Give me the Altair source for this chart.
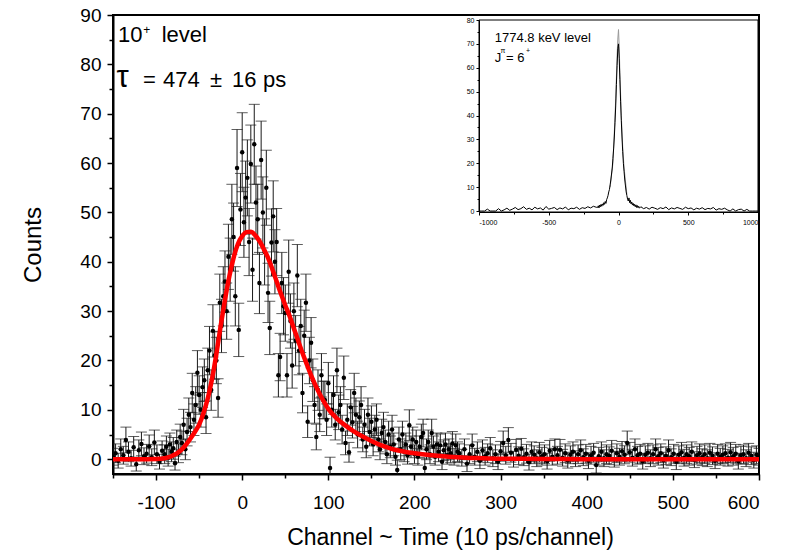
import altair as alt
import pandas as pd

FONT = "Liberation Sans"

# ---------------- main spectrum: 10+ level ----------------
# channels (regular bins) and counts / errors
ch_a = list(range(-150, -92, 3))
cnt_a = [0.5, 1.2, -0.3, 2.0, 0.8, 3.9, 1.5, 0.2, 2.4, -1.0,
         1.8, 3.1, 0.6, 1.1, 2.6, 0.4, 3.4, 1.0, -0.5, 1.7]
err_a = [1.7, 1.9, 1.5, 2.1, 1.8, 2.6, 2.0, 1.6, 2.2, 1.4,
         2.1, 2.4, 1.7, 1.9, 2.3, 1.7, 2.5, 1.9, 1.5, 2.0]

ch_b = list(range(-90, 251, 2))
cnt_b = [1.0, 2.5, 0.3, 3.0, 1.5,
         2.2, -0.8, 3.5, 1.2, 4.5,
         3.3, 7.0, 2.0, 5.5, 9.0,
         6.5, 13.4, 8.0, 11.0, 17.5,
         13.0, 10.0, 14.6, 16.0, 8.5,
         18.0, 22.0, 14.0, 26.0, 21.0,
         20.0, 12.4, 31.7, 27.0, 33.0,
         36.0, 30.0, 41.0, 38.4, 48.6,
         45.0, 33.0, 59.0, 26.2, 50.6,
         62.2, 48.0, 53.0, 57.0, 44.0,
         59.8, 38.4, 63.8, 52.0, 48.6,
         35.7, 60.6, 50.0, 42.0, 55.0,
         33.7, 26.6, 43.9, 49.2, 40.0,
         44.0, 17.0, 20.7, 35.7, 31.0,
         29.6, 17.0, 38.0, 28.0, 19.0,
         30.0, 24.0, 37.2, 22.0, 27.0,
         13.4, 25.0, 31.7, 7.6, 20.0,
         23.6, 16.0, 11.0, 4.5, 14.0,
         9.0, 17.0, 12.0, 12.0, 8.0,
         15.4, -1.8, 10.0, 13.0, 7.0,
         18.0, 9.5, 11.0, 6.0, 16.5,
         3.3, 8.0, 1.4, 10.5, 7.5,
         13.4, 9.0, 5.0, 8.5, 11.0,
         4.0, 7.0, 2.5, 9.0, 5.5,
         7.6, 3.0, 6.0, 8.0, 4.0,
         2.0, 5.3, 6.5, 3.5, 1.0,
         5.0, 2.5, 6.0, 3.0, 0.5,
         -2.2, 4.0, 2.0, 5.0, 1.5,
         3.0, 0.8, 6.9, 2.5, 4.0,
         1.0, 3.5, 0.5, 2.5, 4.5,
         5.3, -1.8, 2.0, 3.5, 1.0,
         5.3, 2.5, 0.5, 3.0, 1.5,
         2.8, -0.5, 1.8, 3.0, 0.8,
         2.0, 1.2, 3.2, 0.5, 2.8,
         1.5]
err_b = [1.9, 2.2, 1.7, 2.3, 2.0,
         2.2, 1.4, 2.4, 1.9, 2.6,
         2.4, 3.1, 2.1, 2.8, 3.4,
         3.0, 4.0, 3.2, 3.7, 4.5,
         3.9, 3.5, 4.1, 4.3, 3.3,
         4.5, 4.9, 4.1, 5.3, 4.8,
         4.7, 3.9, 5.8, 5.4, 6.0,
         6.2, 5.7, 6.6, 6.4, 7.1,
         6.9, 6.0, 7.8, 5.4, 7.3,
         8.0, 7.1, 7.4, 7.7, 6.8,
         7.9, 6.4, 8.1, 7.4, 7.1,
         6.2, 7.9, 7.2, 6.7, 7.6,
         6.0, 5.4, 6.8, 7.2, 6.5,
         6.8, 4.4, 4.8, 6.2, 5.8,
         5.7, 4.4, 6.4, 5.5, 4.6,
         5.7, 5.1, 6.3, 4.9, 5.4,
         4.0, 5.2, 5.8, 3.2, 4.7,
         5.1, 4.3, 3.7, 2.6, 4.1,
         3.4, 4.4, 3.8, 3.8, 3.2,
         4.2, 2.2, 3.5, 3.9, 3.1,
         4.5, 3.5, 3.7, 2.9, 4.4,
         2.4, 3.2, 2.0, 3.6, 3.2,
         4.0, 3.4, 2.7, 3.3, 3.7,
         2.5, 3.1, 2.2, 3.4, 2.8,
         3.2, 2.3, 2.9, 3.2, 2.5,
         2.1, 2.8, 3.0, 2.4, 1.9,
         2.7, 2.2, 2.9, 2.3, 1.7,
         2.0, 2.5, 2.1, 2.7, 2.0,
         2.3, 1.8, 3.1, 2.2, 2.5,
         1.9, 2.4, 1.7, 2.2, 2.6,
         2.8, 2.0, 2.1, 2.4, 1.9,
         2.8, 2.2, 1.7, 2.3, 2.0,
         2.3, 1.6, 2.1, 2.3, 1.8,
         2.1, 1.9, 2.4, 1.7, 2.3,
         2.0]

ch_c = list(range(252, 601, 3))
cnt_c = [1.2, 0.3, 2.0, -0.9, 1.0, 2.8, 0.5, 1.5, -0.3, 1.8,
         0.6, 1.2, 2.2, 0.2, 1.0, -0.5, 1.6, 3.3, 0.8, 3.9,
         1.3, 0.0, 1.9, 0.7, 2.1, 0.4, 1.1, -0.6, 1.5, 0.9,
         0.2, 1.4, 0.6, 1.0, -0.4, 1.7, 0.5, 2.0, 0.8, 1.9,
         0.3, 1.2, -0.2, 0.9, 1.5, 0.1, 1.0, 1.8, 0.4, 1.1,
         -0.3, 0.8, 1.3, -1.2, 0.6, 1.5, 0.2, 1.0, 0.7, 1.7,
         0.0, 1.2, 0.5, 1.6, 0.9, 3.3, 1.4, 0.3, 2.0, 0.8,
         1.1, -0.4, 0.9, 1.3, 0.2, 1.0, 2.0, 0.6, 1.2, -0.2,
         0.7, 1.8, 0.4, 1.1, -0.5, 0.9, 1.4, 0.3, 1.0, 0.6,
         1.5, -0.1, 0.8, 1.2, 0.4, 1.0, 0.2, 1.3, 0.7, -0.3,
         1.1, 0.5, 0.9, 1.2, 0.3, 1.4, 0.6, 1.1, -0.4, 0.8,
         1.0, 0.2, 1.3, 0.7, -0.2, 0.9, 0.5]
err_c = [1.9, 1.7, 2.1, 1.6, 1.9, 2.3, 1.7, 2.0, 1.6, 2.1,
         1.8, 1.9, 2.2, 1.7, 1.9, 1.6, 2.0, 2.4, 1.8, 2.5,
         1.9, 1.6, 2.1, 1.8, 2.1, 1.7, 1.9, 1.6, 2.0, 1.8,
         1.7, 2.0, 1.8, 1.9, 1.6, 2.1, 1.7, 2.1, 1.8, 2.1,
         1.7, 1.9, 1.6, 1.8, 2.0, 1.6, 1.9, 2.1, 1.7, 1.9,
         1.6, 1.8, 1.9, 1.6, 1.8, 2.0, 1.7, 1.9, 1.8, 2.1,
         1.6, 1.9, 1.7, 2.0, 1.8, 2.4, 2.0, 1.7, 2.1, 1.8,
         1.9, 1.6, 1.8, 1.9, 1.7, 1.9, 2.1, 1.8, 1.9, 1.6,
         1.8, 2.1, 1.7, 1.9, 1.6, 1.8, 2.0, 1.7, 1.9, 1.8,
         2.0, 1.6, 1.8, 1.9, 1.7, 1.9, 1.7, 1.9, 1.8, 1.6,
         1.9, 1.7, 1.8, 1.9, 1.7, 2.0, 1.8, 1.9, 1.6, 1.8,
         1.9, 1.7, 1.9, 1.8, 1.6, 1.8, 1.7]

# fitted curve (red)
fit_x = [-150, -120, -100, -90, -85, -80, -75, -70, -65, -60, -55, -50, -45, -40,
         -35, -30, -25, -20, -15, -10, -5, 0, 5, 10, 15, 20, 25, 30, 35, 40, 45,
         50, 55, 60, 65, 70, 75, 80, 85, 90, 95, 100, 110, 120, 130, 140, 150,
         160, 170, 180, 190, 200, 220, 240, 260, 280, 300, 350, 400, 500, 600]
fit_y = [0.0, 0.0, 0.05, 0.2, 0.4, 0.8, 1.3, 2.0, 3.0, 4.2, 5.5, 7.0, 9.3, 12.3,
         16.3, 21.3, 27.0, 32.3, 37.0, 40.8, 43.6, 45.2, 46.0, 46.1, 45.4, 44.2,
         42.6, 40.8, 38.5, 36.0, 33.5, 31.2, 29.0, 26.5, 24.0, 21.5, 19.2, 17.0,
         15.0, 13.2, 11.6, 10.2, 8.2, 6.8, 5.6, 4.6, 3.7, 2.9, 2.3, 1.8, 1.45,
         1.2, 0.8, 0.5, 0.3, 0.2, 0.1, 0.05, 0.0, 0.0, 0.0]

x_ticks = [-100, 0, 100, 200, 300, 400, 500, 600]
x_minor = [-150, -50, 50, 150, 250, 350, 450, 550]
y_ticks = [0, 10, 20, 30, 40, 50, 60, 70, 80, 90]
y_minor = [5, 15, 25, 35, 45, 55, 65, 75, 85]

# ---------------- inset: 1774.8 keV level ----------------
ins_x_left = list(range(-1000, -159, 20))
ins_y_left = [0, 0, 0, 0.8, 0, 0, 0, 1.0, 0, 0.5,
              1.2, 0.3, 0.8, 1.5, 0.6, 1.0, 1.8, 0.7, 1.2, 0.5,
              1.6, 0.9, 1.3, 0.4, 1.9, 0.8, 1.1, 1.5, 0.6, 1.3,
              0.9, 1.7, 0.5, 1.2, 1.0, 1.6, 0.7, 1.4, 1.1, 1.8,
              1.3, 2.0, 1.6]
ins_x_peak = list(range(-150, 151, 5))
ins_y_peak = [1.5, 2.2, 1.3, 2.5, 1.8, 2.8, 2.0, 3.0, 2.4, 3.5, 2.8,
              4.0, 3.2, 4.8, 5.5, 6.5, 8.0, 9.0, 11.0, 13.0, 15.5,
              18.0, 22.0, 26.0, 31.0, 37.0, 44.0, 53.0, 61.0, 68.0, 70.0,
              64.0, 55.0, 46.0, 38.0, 31.0, 25.0, 20.0, 16.5, 13.0, 10.5,
              8.0, 6.5, 5.0, 4.2, 5.5, 3.5, 4.5, 3.0, 3.8, 2.5,
              3.2, 2.2, 2.8, 1.8, 2.6, 1.5, 2.3, 1.4, 2.0, 1.2]
ins_x_right = list(range(160, 1001, 20))
ins_y_right = [1.8, 1.0, 1.5, 0.8, 1.6, 1.2, 0.7, 1.4, 1.0, 1.7,
               0.6, 1.3, 0.9, 1.5, 1.1, 0.7, 1.6, 1.0, 1.3, 0.5,
               1.2, 0.8, 1.4, 0.6, 1.1, 0.9, 1.5, 0.4, 1.0, 0.7,
               1.2, 0.5, 0, 0.9, 0, 0.6, 0.8, 0, 0.7, 0,
               0, 0, 0]
gray_x = [-60, -40, -30, -20, -10, -5, 0, 5, 10, 20, 30, 40, 60]
gray_y = [10.0, 20.0, 33.0, 47.0, 65.0, 72.0, 76.0, 69.0, 58.0, 40.0, 27.0, 18.0, 7.0]

ins_x_ticks = [-1000, -500, 0, 500, 1000]
ins_x_minor = [-750, -250, 250, 750]
ins_y_ticks = [0, 10, 20, 30, 40, 50, 60, 70, 80]
ins_y_minor = [5, 15, 25, 35, 45, 55, 65, 75]

# ---------------- layout ----------------
W, H = 646, 459
PAD_L, PAD_T = 113, 15
BAR = "#1a1a1a"

main_df = pd.DataFrame({
    "ch": ch_a + ch_b + ch_c,
    "cnt": cnt_a + cnt_b + cnt_c,
    "err": err_a + err_b + err_c,
})
fit_df = pd.DataFrame({"ch": fit_x, "cnt": fit_y})

xs = alt.Scale(domain=[-150, 600], nice=False, zero=False)
ys = alt.Scale(domain=[-3, 90], nice=False, zero=False)

ax_common = dict(grid=False, labelFont=FONT, titleFont=FONT, labelColor="black",
                 titleColor="black", tickColor="black", domainColor="black",
                 titleFontWeight="normal")

x_major = alt.Axis(values=x_ticks, orient="bottom", title="Channel ~ Time (10 ps/channel)",
                   tickSize=6, tickWidth=1.5, domainWidth=2, labelFontSize=19,
                   labelPadding=13, titleFontSize=23, titlePadding=14, titleX=337,
                   labelExpr="'' + datum.value", **ax_common)
y_major = alt.Axis(values=y_ticks, orient="left", title="Counts",
                   tickSize=6, tickWidth=1.5, domainWidth=2, labelFontSize=19,
                   labelPadding=6, titleFontSize=24, titlePadding=34, **ax_common)
x_min_ax = alt.Axis(values=x_minor, orient="bottom", title=None, labels=False,
                    domain=False, tickSize=4, tickWidth=1.5, grid=False, tickColor="black")
y_min_ax = alt.Axis(values=y_minor, orient="left", title=None, labels=False,
                    domain=False, tickSize=4, tickWidth=1.5, grid=False, tickColor="black")

base = alt.Chart(main_df).transform_calculate(
    lo="datum.cnt - datum.err", hi="datum.cnt + datum.err")

bars = base.mark_rule(color=BAR, strokeWidth=1, clip=True).encode(
    x=alt.X("ch:Q", scale=xs, axis=None),
    y=alt.Y("lo:Q", scale=ys, axis=None),
    y2="hi:Q",
)
cap_lo = base.mark_tick(orient="horizontal", size=11, thickness=1, color=BAR,
                        clip=True).encode(
    x=alt.X("ch:Q", scale=xs, axis=None),
    y=alt.Y("lo:Q", scale=ys, axis=None),
)
cap_hi = base.mark_tick(orient="horizontal", size=11, thickness=1, color=BAR,
                        clip=True).encode(
    x=alt.X("ch:Q", scale=xs, axis=None),
    y=alt.Y("hi:Q", scale=ys, axis=None),
)
pts = base.mark_circle(size=20, color="black", opacity=1, clip=True).encode(
    x=alt.X("ch:Q", scale=xs, axis=x_major),
    y=alt.Y("cnt:Q", scale=ys, axis=y_major),
)
fit = alt.Chart(fit_df).mark_line(color="#ff0000", strokeWidth=4.5,
                                  interpolate="monotone", clip=True).encode(
    x=alt.X("ch:Q", scale=xs, axis=x_min_ax),
    y=alt.Y("cnt:Q", scale=ys, axis=y_min_ax),
)

# annotations of the main panel (data coordinates)
lab_big = pd.DataFrame({
    "x": [-144.2, -93.5, -115.2, -91.9, -37.4, -11.8, 24.2],
    "y": [84.6, 84.6, 75.35, 75.35, 75.35, 75.35, 75.35],
    "t": ["10", "level", "=", "474", "±", "16", "ps"],
})
txt_big = alt.Chart(lab_big).mark_text(align="left", baseline="alphabetic", fontSize=22,
                                       font=FONT, color="black").encode(
    x=alt.X("x:Q", scale=xs, axis=None), y=alt.Y("y:Q", scale=ys, axis=None), text="t:N")
lab_tau = pd.DataFrame({"x": [-146.0], "y": [75.35], "t": ["τ"]})
txt_tau = alt.Chart(lab_tau).mark_text(align="left", baseline="alphabetic", fontSize=31,
                                       font=FONT, color="black").encode(
    x=alt.X("x:Q", scale=xs, axis=None), y=alt.Y("y:Q", scale=ys, axis=None), text="t:N")
lab_sup = pd.DataFrame({"x": [-110.9], "y": [87.0], "t": ["+"]})
txt_sup = alt.Chart(lab_sup).mark_text(align="center", baseline="middle", fontSize=12,
                                       font=FONT, color="black").encode(
    x=alt.X("x:Q", scale=xs, axis=None), y=alt.Y("y:Q", scale=ys, axis=None), text="t:N")

main_layer = alt.layer(bars, cap_lo, cap_hi, pts, fit, txt_big, txt_tau, txt_sup
                       ).resolve_axis(x="independent", y="independent")

# ---------------- inset ----------------
ixs = alt.Scale(domain=[-1000, 1000], range=[366, 645], nice=False, zero=False)
iys = alt.Scale(domain=[-0.4, 80], range=[197, 5], nice=False, zero=False)

ins_df = pd.DataFrame({"ch": ins_x_left + ins_x_peak + ins_x_right,
                       "cnt": ins_y_left + ins_y_peak + ins_y_right})
gray_df = pd.DataFrame({"ch": gray_x, "cnt": gray_y})
frame_df = pd.DataFrame({"x": [-1000], "x2": [1000], "y": [-0.4], "y2": [80]})

ix_major = alt.Axis(values=ins_x_ticks, orient="bottom", offset=197 - H, title=None,
                    tickSize=3, tickWidth=1, domainWidth=1, labelFontSize=7,
                    labelPadding=3, labelExpr="'' + datum.value", **ax_common)
iy_major = alt.Axis(values=ins_y_ticks, orient="left", offset=-366, title=None,
                    tickSize=3, tickWidth=1, domainWidth=1, labelFontSize=7,
                    labelPadding=2, **ax_common)
ix_minor = alt.Axis(values=ins_x_minor, orient="bottom", offset=197 - H, title=None,
                    labels=False, domain=False, tickSize=2, tickWidth=1, grid=False,
                    tickColor="black")
iy_minor = alt.Axis(values=ins_y_minor, orient="left", offset=-366, title=None,
                    labels=False, domain=False, tickSize=2, tickWidth=1, grid=False,
                    tickColor="black")

frame = alt.Chart(frame_df).mark_rect(filled=False, stroke="black", strokeWidth=1).encode(
    x=alt.X("x:Q", scale=ixs, axis=None), x2="x2:Q",
    y=alt.Y("y:Q", scale=iys, axis=None), y2="y2:Q")
gline = alt.Chart(gray_df).mark_line(color="#9a9a9a", strokeWidth=1).encode(
    x=alt.X("ch:Q", scale=ixs, axis=ix_minor),
    y=alt.Y("cnt:Q", scale=iys, axis=iy_minor))
bline = alt.Chart(ins_df).mark_line(color="black", strokeWidth=1).encode(
    x=alt.X("ch:Q", scale=ixs, axis=ix_major),
    y=alt.Y("cnt:Q", scale=iys, axis=iy_major))

ins_lab = pd.DataFrame({"x": [-887, -887, -806], "y": [70.6, 62.5, 62.5],
                        "t": ["1774.8 keV level", "J", "= 6"]})
ins_txt = alt.Chart(ins_lab).mark_text(align="left", baseline="alphabetic", fontSize=13,
                                       font=FONT, color="black").encode(
    x=alt.X("x:Q", scale=ixs, axis=None), y=alt.Y("y:Q", scale=iys, axis=None), text="t:N")
ins_sup = pd.DataFrame({"x": [-828, -648], "y": [67.0, 67.0], "t": ["π", "+"]})
ins_stxt = alt.Chart(ins_sup).mark_text(align="center", baseline="middle", fontSize=7,
                                        font=FONT, color="black").encode(
    x=alt.X("x:Q", scale=ixs, axis=None), y=alt.Y("y:Q", scale=iys, axis=None), text="t:N")

inset_layer = alt.layer(frame, gline, bline, ins_txt, ins_stxt
                        ).resolve_axis(x="independent", y="independent")

chart = alt.layer(main_layer, inset_layer).resolve_scale(
    x="independent", y="independent"
).properties(
    width=W, height=H,
    padding={"left": PAD_L, "top": PAD_T, "right": 788 - PAD_L - W, "bottom": 554 - PAD_T - H},
    autosize=alt.AutoSizeParams(type="none"),
    background="white",
).configure_view(stroke="black", strokeWidth=2)

chart.save("out.html", embed_options={"renderer": "svg", "actions": False})
